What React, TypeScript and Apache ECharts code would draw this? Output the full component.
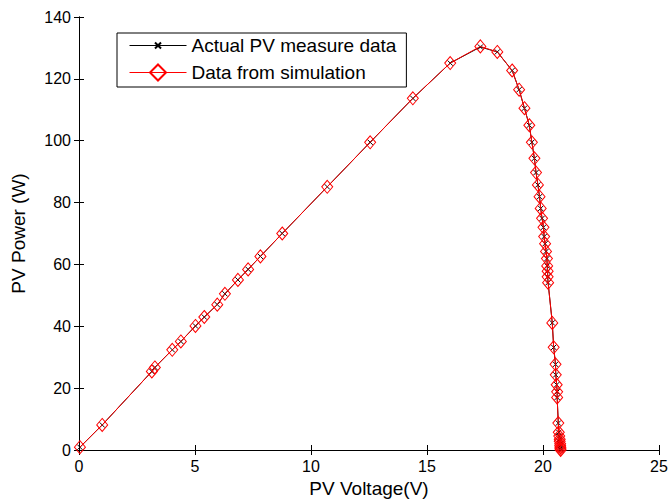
import React, { useEffect, useRef } from "react";
import * as echarts from "echarts";

const measuredV = [0.04, 1.0, 3.14, 3.27, 4.02, 4.39, 5.02, 5.4, 5.96, 6.29, 6.85, 7.29, 7.82, 8.76, 10.7, 12.55, 14.39, 16.0, 17.3, 18.03, 18.67, 18.97, 19.2, 19.41, 19.52, 19.63, 19.7, 19.78, 19.85, 19.9, 19.96, 20.02, 20.05, 20.09, 20.13, 20.17, 20.18, 20.2, 20.2, 20.22, 20.4, 20.46, 20.54, 20.55, 20.59, 20.61, 20.61, 20.66, 20.68, 20.7, 20.72, 20.72, 20.74, 20.74, 20.75, 20.75, 20.76];
const measuredP = [0.9, 8.1, 25.4, 26.7, 32.4, 35.1, 40.1, 43, 47, 50.5, 55, 58.4, 62.6, 70, 85.1, 99.5, 113.7, 125.1, 130.3, 128.7, 122.7, 116.5, 110.5, 105, 99.5, 94.3, 89.7, 85.7, 81.9, 78.1, 74.9, 72, 69, 66.7, 64.2, 61.9, 59.5, 57.8, 56, 54.1, 41.1, 33.2, 27.7, 24.3, 21.1, 18.8, 17, 8.7, 5.7, 4.5, 3.5, 2.8, 2.0, 1.4, 0.9, 0.4, 0];
const simV = [0.04, 1.0, 3.14, 3.27, 4.02, 4.39, 5.02, 5.4, 5.96, 6.29, 6.85, 7.29, 7.82, 8.76, 10.7, 12.55, 14.39, 16.0, 17.3, 18.03, 18.67, 18.97, 19.2, 19.41, 19.52, 19.63, 19.7, 19.78, 19.85, 19.9, 19.96, 20.02, 20.05, 20.09, 20.13, 20.17, 20.18, 20.2, 20.2, 20.22, 20.4, 20.46, 20.54, 20.55, 20.59, 20.61, 20.61, 20.66, 20.68, 20.7, 20.72, 20.72, 20.74, 20.74, 20.75, 20.75, 20.76];
const simP = [0.9, 8.1, 25.4, 26.7, 32.4, 35.1, 40.1, 43, 47, 50.5, 55, 58.4, 62.6, 70, 85.1, 99.5, 113.7, 125.1, 130.5, 128.7, 122.7, 116.5, 110.5, 105, 99.5, 94.3, 89.7, 85.7, 81.9, 78.1, 74.9, 72, 69, 66.7, 64.2, 61.9, 59.5, 57.8, 56, 54.1, 41.1, 33.2, 27.7, 24.3, 21.1, 18.8, 17, 8.7, 5.7, 4.5, 3.5, 2.8, 2.0, 1.4, 0.9, 0.4, 0];

const xTicks = { min: 0, max: 25, interval: 5 };
const yTicks = { min: 0, max: 140, interval: 20 };

const FONT = "Liberation Sans, Arial, sans-serif";
const X_SYMBOL = "path://M0,0L0,0M5,5L11,11M11,5L5,11M16,16L16,16";
const DIAMOND = "path://M5.5,0L11,8L5.5,16L0,8Z";

export default function App() {
  const ref = useRef<HTMLDivElement>(null);
  useEffect(() => {
    if (!ref.current) return;
    const chart = echarts.init(ref.current, undefined, { renderer: "svg" });
    const axisLine = { show: true, lineStyle: { color: "#000", width: 1 } };
    const tick = { show: true, inside: true, length: 5, lineStyle: { color: "#000" } };
    chart.setOption({
      animation: false,
      backgroundColor: "#fff",
      textStyle: { fontFamily: FONT },
      grid: { left: 79, top: 17, width: 580, height: 433, containLabel: false },
      legend: {
        orient: "vertical",
        left: 117,
        top: 33,
        backgroundColor: "#fff",
        borderColor: "#000",
        borderWidth: 1,
        padding: [2, 10, 5, 12],
        itemWidth: 57,
        itemHeight: 20,
        itemGap: 7,
        symbolKeepAspect: true,
        lineStyle: { width: 1 },
        textStyle: { fontSize: 19, color: "#000", fontFamily: FONT },
        data: ["Actual PV measure data", "Data from simulation"],
      },
      xAxis: [
        {
          type: "value",
          ...xTicks,
          name: "PV Voltage(V)",
          nameLocation: "middle",
          nameGap: 29,
          nameTextStyle: { fontSize: 19, color: "#000", fontFamily: FONT },
          axisLine,
          axisTick: tick,
          axisLabel: { color: "#000", fontSize: 16, margin: 8, fontFamily: FONT },
          splitLine: { show: false },
        },
        {
          type: "value",
          position: "top",
          ...xTicks,
          axisLine,
          axisTick: tick,
          axisLabel: { show: false },
          splitLine: { show: false },
        },
      ],
      yAxis: [
        {
          type: "value",
          ...yTicks,
          name: "PV Power (W)",
          nameLocation: "middle",
          nameGap: 51,
          nameTextStyle: { fontSize: 19, color: "#000", fontFamily: FONT },
          axisLine,
          axisTick: tick,
          axisLabel: { color: "#000", fontSize: 16, margin: 8, fontFamily: FONT },
          splitLine: { show: false },
        },
        {
          type: "value",
          position: "right",
          ...yTicks,
          axisLine,
          axisTick: tick,
          axisLabel: { show: false },
          splitLine: { show: false },
        },
      ],
      series: [
        {
          name: "Actual PV measure data",
          type: "line",
          data: measuredV.map((v, i) => [v, measuredP[i]]),
          symbol: X_SYMBOL,
          symbolSize: 14,
          showAllSymbol: true,
          lineStyle: { color: "#000", width: 1 },
          itemStyle: { color: "none", borderColor: "#000", borderWidth: 1 },
          z: 2,
        },
        {
          name: "Data from simulation",
          type: "line",
          data: simV.map((v, i) => [v, simP[i]]),
          symbol: DIAMOND,
          symbolSize: [11, 13],
          symbolKeepAspect: false,
          showAllSymbol: true,
          lineStyle: { color: "#ff0000", width: 1 },
          itemStyle: { color: "transparent", borderColor: "#ff0000", borderWidth: 1 },
          z: 3,
        },
      ],
    });
    return () => chart.dispose();
  }, []);
  return (
    <div
      ref={ref}
      style={{ position: "fixed", left: 0, top: 0, width: 672, height: 504 }}
    />
  );
}
